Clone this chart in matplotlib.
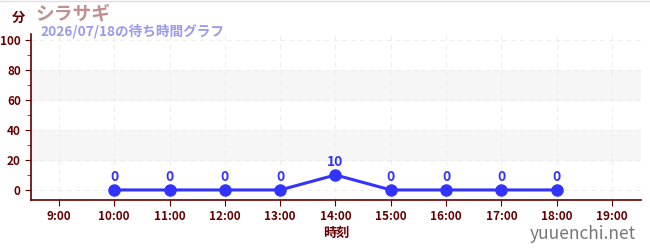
import matplotlib.pyplot as plt
from matplotlib.ticker import MultipleLocator

plt.rcParams['font.family'] = ['Noto Sans CJK JP', 'DejaVu Sans']

hours = [9, 10, 11, 12, 13, 14, 15, 16, 17, 18, 19]
hour_labels = [f"{h}:00" for h in hours]
times = [10, 11, 12, 13, 14, 15, 16, 17, 18]
waits = [0, 0, 0, 0, 10, 0, 0, 0, 0]

title = "シラサギ"
subtitle = "2026/07/18の待ち時間グラフ"
dark = "#660000"
blue = "#3333ff"

fig = plt.figure(figsize=(6.5, 2.5), dpi=100)
ax = fig.add_axes([0.048, 0.2, 0.938, 0.664])

ax.set_xlim(8.5, 19.52)
ax.set_ylim(-6.7, 104)

# banded background
for lo, hi in [(20, 40), (60, 80)]:
    ax.axhspan(lo, hi, color="#f6f6f6", zorder=0)

ax.set_xticks(hours)
ax.set_xticklabels(hour_labels)
ax.set_yticks(range(0, 101, 20))
ax.yaxis.set_minor_locator(MultipleLocator(10))
ax.grid(True, color="#ededed", linestyle=(0, (4, 4)), linewidth=0.8)
ax.set_axisbelow(True)

for s in ["top", "right"]:
    ax.spines[s].set_visible(False)
for s in ["left", "bottom"]:
    ax.spines[s].set_color(dark)
    ax.spines[s].set_linewidth(1.2)

ax.tick_params(axis="both", colors=dark, labelsize=8.5, length=4)
ax.tick_params(axis="y", which="minor", colors="#cc0000", length=3)
for lbl in ax.get_xticklabels() + ax.get_yticklabels():
    lbl.set_fontweight("bold")
    lbl.set_color(dark)

ax.plot(times, waits, color=blue, linewidth=2.2, marker="o", markersize=8, zorder=3)
for t, w in zip(times, waits):
    ax.annotate(str(w), (t, w), xytext=(0, 4), textcoords="offset points",
                ha="center", va="bottom", color=blue, fontsize=10, fontweight="bold")

ax.set_xlabel("時刻", color=dark, fontsize=9.5, fontweight="bold", labelpad=2)

fig.text(0.028, 0.93, "分", color=dark, fontsize=9.5, fontweight="bold", va="center", ha="center")
fig.text(0.054, 0.945, title, color="#c09090", fontsize=13.5, fontweight="bold", va="center")
fig.text(0.062, 0.875, subtitle, color="#9999ee", fontsize=9.8, fontweight="bold", va="center")
fig.text(0.978, 0.065, "yuuenchi.net", color="#777777", fontsize=12.5, ha="right", va="center")

fig.add_artist(plt.Line2D([0, 1], [0.998, 0.998], color="#ddddee", linewidth=1))

fig.savefig("out.png", dpi=100)
